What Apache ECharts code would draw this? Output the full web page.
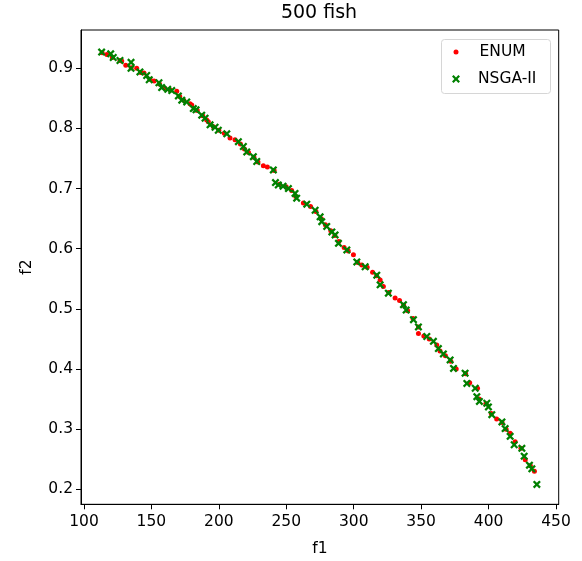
<!DOCTYPE html>
<html>
<head>
<meta charset="utf-8">
<script src="https://cdn.jsdelivr.net/npm/echarts@6/dist/echarts.min.js"></script>
<style>
html,body{margin:0;padding:0;background:#fff;}
#chart{width:582px;height:561px;}
</style>
</head>
<body>
<div id="chart"></div>
<script>
const titleText = '500 fish';
const seriesNames = ['ENUM', 'NSGA-II'];
const xTicks = [100, 150, 200, 250, 300, 350, 400, 450];
const yTicks = [0.2, 0.3, 0.4, 0.5, 0.6, 0.7, 0.8, 0.9];

const enumF1 = [113.5,117,121,126.7,128,131,135,139.1,142,144.5,149,152,156,160,164,168.8,171,174,178.6,179.9,184,188,191,192.2,196,200,204,208.3,212,216,219,222,226,229,233,236,241,245,249.9,254,257,262.7,268,272,276,279,283,286,289,292.9,296,299.8,303,306,310,314,317,319.6,322,326,330.7,334,337,340,344,348,348,352,356,361.6,364,368,372,376,383,386,391.8,393,398,402,406,410,413,416,419.7,424,427.2,431,434];
const enumF2 = [0.926,0.923,0.918,0.913,0.912,0.905,0.901,0.900,0.893,0.892,0.882,0.879,0.874,0.867,0.864,0.862,0.853,0.847,0.841,0.839,0.830,0.821,0.814,0.811,0.803,0.797,0.792,0.784,0.781,0.774,0.766,0.760,0.752,0.744,0.738,0.736,0.730,0.707,0.703,0.697,0.687,0.676,0.670,0.662,0.650,0.640,0.630,0.622,0.612,0.602,0.596,0.590,0.577,0.573,0.569,0.561,0.555,0.548,0.537,0.527,0.518,0.514,0.506,0.497,0.484,0.470,0.459,0.455,0.450,0.440,0.430,0.422,0.413,0.400,0.392,0.377,0.368,0.350,0.342,0.326,0.317,0.311,0.300,0.293,0.279,0.268,0.249,0.239,0.230];

const nsgaF1 = [113.1,119.8,121.7,126.7,134.9,134.9,141.5,146.5,148.4,155.6,157.6,162.1,165.1,170.0,172.5,176.2,181.1,183.1,187.3,189.8,193.5,197.2,199.6,205.9,214.5,218.2,220.7,225.6,228.1,240.4,242.0,244.1,247.6,251.6,256.5,257.7,265.2,271.4,275.1,276.3,280.0,283.8,286.2,288.7,294.9,302.3,308.5,317.1,319.6,325.7,336.9,338.9,344.3,348.0,354.2,359.1,362.8,366.5,371.5,374.0,382.6,383.9,390.1,391.3,393.2,398.7,399.9,402.4,409.9,412.3,416.0,419.0,424.7,426.4,430.3,432.1,435.8];
const nsgaF2 = [0.927,0.924,0.918,0.913,0.910,0.900,0.894,0.888,0.881,0.876,0.868,0.865,0.863,0.854,0.847,0.844,0.833,0.831,0.822,0.817,0.806,0.802,0.797,0.791,0.778,0.770,0.761,0.753,0.745,0.731,0.710,0.706,0.704,0.700,0.692,0.684,0.674,0.664,0.653,0.645,0.637,0.628,0.623,0.609,0.598,0.578,0.570,0.556,0.540,0.526,0.507,0.498,0.482,0.470,0.454,0.446,0.434,0.425,0.415,0.401,0.393,0.376,0.368,0.354,0.346,0.343,0.337,0.324,0.312,0.301,0.288,0.274,0.268,0.255,0.240,0.234,0.208];

const enumData = enumF1.map((v, i) => [v, enumF2[i]]);
const nsgaData = nsgaF1.map((v, i) => [v, nsgaF2[i]]);

const FONT = 'DejaVu Sans';
const xMark = 'path://M0,2 L2,0 L5,3 L8,0 L10,2 L7,5 L10,8 L8,10 L5,7 L2,10 L0,8 L3,5 Z';

const chart = echarts.init(document.getElementById('chart'), null, {renderer: 'canvas'});
chart.setOption({
  animation: false,
  backgroundColor: '#ffffff',
  title: {
    text: titleText,
    left: 319,
    top: 4,
    textAlign: 'center',
    padding: 0,
    textStyle: {fontFamily: FONT, fontSize: 19, fontWeight: 'normal', color: '#000'}
  },
  grid: {
    left: 81, right: 23.3, top: 30, bottom: 56.7,
    show: true, borderColor: '#000', borderWidth: 1, backgroundColor: 'transparent',
    outerBoundsMode: 'none'
  },
  xAxis: {
    type: 'value',
    min: 97.8, max: 452,
    splitNumber: 7,
    name: 'f1', nameLocation: 'middle', nameGap: 37,
    nameTextStyle: {fontFamily: FONT, fontSize: 15.5, color: '#000'},
    axisLine: {show: true, onZero: false, lineStyle: {color: '#000', width: 1}},
    axisTick: {show: true, length: 5, lineStyle: {color: '#000', width: 1}},
    axisLabel: {
      show: true, margin: 10, fontFamily: FONT, fontSize: 15.5, color: '#000',
      showMinLabel: false, showMaxLabel: false,
      formatter: v => (xTicks.indexOf(Math.round(v * 1000) / 1000) >= 0 ? String(v) : '')
    },
    splitLine: {show: false}
  },
  yAxis: {
    type: 'value',
    min: 0.175, max: 0.9637,
    splitNumber: 8,
    name: 'f2', nameLocation: 'middle', nameGap: 46, nameRotate: 90,
    nameTextStyle: {fontFamily: FONT, fontSize: 15.5, color: '#000'},
    axisLine: {show: true, onZero: false, lineStyle: {color: '#000', width: 1}},
    axisTick: {show: true, length: 5, lineStyle: {color: '#000', width: 1}},
    axisLabel: {
      show: true, margin: 8, fontFamily: FONT, fontSize: 15.5, color: '#000',
      showMinLabel: false, showMaxLabel: false,
      formatter: v => {
        const r = Math.round(v * 1000) / 1000;
        return yTicks.indexOf(r) >= 0 ? r.toFixed(1) : '';
      }
    },
    splitLine: {show: false}
  },
  graphic: [{
    type: 'rect', z: 3,
    shape: {x: 441.5, y: 39.5, width: 109, height: 54, r: 3},
    style: {fill: 'rgba(255,255,255,0.8)', stroke: '#d6d6d6', lineWidth: 1}
  }],
  legend: [{
    data: [{name: seriesNames[0], icon: 'circle'}],
    orient: 'vertical', left: 453.5, top: 43, padding: 0,
    itemWidth: 5, itemHeight: 5,
    textStyle: {fontFamily: FONT, fontSize: 15.5, color: '#000', lineHeight: 18, padding: [0, 0, 0, 16]},
    selectedMode: false
  }, {
    data: [{name: seriesNames[1], icon: xMark}],
    orient: 'vertical', left: 452, top: 70, padding: 0,
    itemWidth: 8, itemHeight: 8,
    textStyle: {fontFamily: FONT, fontSize: 15.5, color: '#000', lineHeight: 18, padding: [0, 0, 0, 13]},
    selectedMode: false
  }],
  series: [{
    name: seriesNames[0],
    type: 'scatter',
    data: enumData,
    symbol: 'circle',
    symbolSize: 5,
    itemStyle: {color: '#ff0000', opacity: 1},
    z: 2
  }, {
    name: seriesNames[1],
    type: 'scatter',
    data: nsgaData,
    symbol: xMark,
    symbolSize: 8,
    itemStyle: {color: '#008000', opacity: 1},
    z: 3
  }]
});
</script>
</body>
</html>
